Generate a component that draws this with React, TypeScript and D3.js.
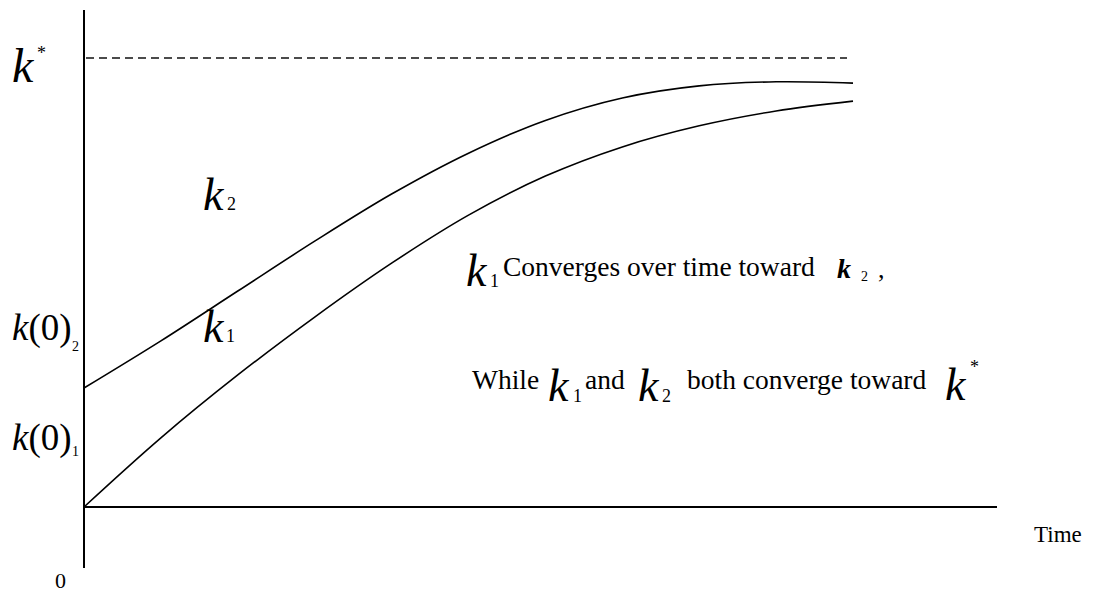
import React from "react";
import * as d3 from "d3";

const times = [0, 1, 2, 3, 4, 5, 6, 7, 8, 9, 10];
const k1Values = [0, 0.154, 0.294, 0.423, 0.543, 0.65, 0.737, 0.802, 0.849, 0.882, 0.904];
const k2Values = [0.265, 0.37, 0.481, 0.592, 0.697, 0.788, 0.861, 0.911, 0.938, 0.947, 0.944];
const kStar = 1;

const W = 1103;
const H = 592;

export default function App() {
  const x = d3.scaleLinear().domain([0, 10]).range([84, 853]);
  const y = d3.scaleLinear().domain([0, 1]).range([507, 58]);
  const line = d3
    .line<number>()
    .x((_, i) => x(times[i]))
    .y((d) => y(d))
    .curve(d3.curveCatmullRom.alpha(0.5));

  const serif = "Liberation Serif, DejaVu Serif, Noto Serif, Times New Roman, serif";
  const kStyle = { fontFamily: serif, fontStyle: "italic" as const };

  return (
    <svg
      width={W}
      height={H}
      style={{ position: "absolute", left: 0, top: 0, background: "#fff" }}
    >
      {/* axes */}
      <line x1={84} y1={10} x2={84} y2={568} stroke="#000" strokeWidth={2} />
      <line x1={84} y1={y(0)} x2={997} y2={y(0)} stroke="#000" strokeWidth={2} />
      {/* k* dashed */}
      <line
        x1={86}
        y1={y(kStar)}
        x2={847}
        y2={y(kStar)}
        stroke="#111"
        strokeWidth={1.7}
        strokeDasharray="8 5"
      />
      {/* curves */}
      <path d={line(k2Values) || ""} fill="none" stroke="#000" strokeWidth={1.6} />
      <path d={line(k1Values) || ""} fill="none" stroke="#000" strokeWidth={1.6} />

      {/* left labels */}
      <text x={12} y={82} fontSize={48} style={kStyle}>k</text>
      <text x={37} y={59} fontSize={18} style={{ fontFamily: serif }}>*</text>

      <text x={12} y={340} fontSize={37} style={{ fontFamily: serif }}>
        <tspan style={kStyle}>k</tspan>(0)
      </text>
      <text x={72} y={351} fontSize={14} style={{ fontFamily: serif }}>2</text>

      <text x={12} y={450} fontSize={37} style={{ fontFamily: serif }}>
        <tspan style={kStyle}>k</tspan>(0)
      </text>
      <text x={72} y={456} fontSize={14} style={{ fontFamily: serif }}>1</text>

      <text x={55} y={588} fontSize={22} style={{ fontFamily: serif }}>0</text>
      <text x={1034} y={542} fontSize={23} style={{ fontFamily: serif }}>Time</text>

      {/* curve labels */}
      <text x={203} y={210} fontSize={46} style={kStyle}>k</text>
      <text x={227} y={210} fontSize={18} style={{ fontFamily: serif }}>2</text>
      <text x={203} y={342} fontSize={46} style={kStyle}>k</text>
      <text x={226} y={342} fontSize={18} style={{ fontFamily: serif }}>1</text>

      {/* annotation line 1 */}
      <text x={466} y={286} fontSize={46} style={kStyle}>k</text>
      <text x={490} y={287} fontSize={18} style={{ fontFamily: serif }}>1</text>
      <text x={503} y={276} fontSize={27.5} style={{ fontFamily: serif }}>Converges over time toward</text>
      <text x={837} y={278} fontSize={28} style={{ fontFamily: serif, fontStyle: "italic", fontWeight: "bold" }}>k</text>
      <text x={861} y={281} fontSize={14} style={{ fontFamily: serif }}>2</text>
      <text x={878} y={278} fontSize={26} style={{ fontFamily: serif }}>,</text>

      {/* annotation line 2 */}
      <text x={472} y={389} fontSize={27.5} style={{ fontFamily: serif }}>While</text>
      <text x={548} y={401} fontSize={46} style={kStyle}>k</text>
      <text x={573} y={402} fontSize={18} style={{ fontFamily: serif }}>1</text>
      <text x={585} y={389} fontSize={27.5} style={{ fontFamily: serif }}>and</text>
      <text x={638} y={401} fontSize={46} style={kStyle}>k</text>
      <text x={662} y={402} fontSize={18} style={{ fontFamily: serif }}>2</text>
      <text x={687} y={389} fontSize={27.5} style={{ fontFamily: serif }}>both converge toward</text>
      <text x={945} y={400} fontSize={46} style={kStyle}>k</text>
      <text x={970} y={373} fontSize={18} style={{ fontFamily: serif }}>*</text>
    </svg>
  );
}
